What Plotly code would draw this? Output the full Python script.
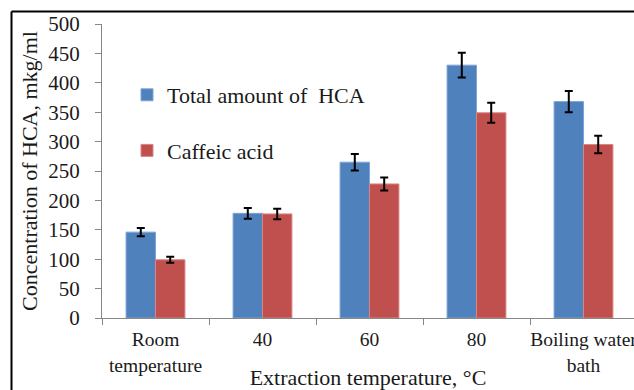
import plotly.graph_objects as go

categories = ["Room<br>temperature", "40", "60", "80", "Boiling water<br>bath"]
total_hca = [146, 178, 265, 430, 368]
total_err = [7, 9, 14, 21, 18]
caffeic = [99, 177, 228, 349, 295]
caffeic_err = [5, 9, 11, 17, 15]
series_names = ["Total amount of  HCA", "Caffeic acid"]
y_ticks = [0, 50, 100, 150, 200, 250, 300, 350, 400, 450, 500]

W, H = 634, 390
L, R, T, B = 102, 0, 24, 72
FONT = "Liberation Serif"
TXT = "#1a1a1a"

fig = go.Figure()
fig.add_trace(go.Bar(
    x=categories, y=total_hca, name=series_names[0], legendgroup="a",
    marker=dict(color="#4F81BD", line=dict(color="#7FA3D6", width=1)),
    error_y=dict(type="data", array=total_err, color="black", thickness=2, width=4),
))
fig.add_trace(go.Bar(
    x=categories, y=caffeic, name=series_names[1], legendgroup="b",
    marker=dict(color="#C0504D", line=dict(color="#D98583", width=1)),
    error_y=dict(type="data", array=caffeic_err, color="black", thickness=2, width=4),
))

pw = W - L - R
ph = H - T - B
def px_x(p):
    return (p - L) / pw
def px_y(p):
    return (H - B - p) / ph

fig.update_layout(
    width=W, height=H,
    margin=dict(l=L, r=R, t=T, b=B, pad=0),
    paper_bgcolor="white", plot_bgcolor="white",
    barmode="group", bargap=0.45, bargroupgap=0,
    font=dict(family=FONT, size=19, color=TXT),
    showlegend=True,
    legend=dict(
        x=px_x(127), y=px_y(74), xanchor="left", yanchor="top",
        bgcolor="rgba(0,0,0,0)", traceorder="grouped", tracegroupgap=24,
        font=dict(family=FONT, size=22, color=TXT),
    ),
    xaxis=dict(
        type="category", range=[-0.5, 4.472], showgrid=False,
        showline=True, linecolor="#868686", linewidth=1,
        ticks="outside", tickson="boundaries", ticklen=6, tickcolor="#868686",
        tickangle=0, ticklabelstandoff=4,
        tickfont=dict(family=FONT, size=19.5, color=TXT),
        title=dict(text="Extraction temperature, °C", standoff=2,
                   font=dict(family=FONT, size=22, color=TXT)),
        automargin=False,
    ),
    yaxis=dict(
        range=[0, 500], tickvals=y_ticks, showgrid=False, zeroline=False,
        showline=True, linecolor="#868686", linewidth=1,
        ticks="outside", ticklen=6, tickcolor="#868686",
        ticklabelstandoff=11,
        tickfont=dict(family=FONT, size=21, color=TXT),
        title=dict(text="Concentration of HCA, mkg/ml", standoff=4,
                   font=dict(family=FONT, size=22, color=TXT)),
        automargin=False,
    ),
    shapes=[
        dict(type="line", xref="paper", yref="paper",
             x0=px_x(11.5), x1=px_x(700), y0=px_y(11.5), y1=px_y(11.5),
             line=dict(color="black", width=2)),
        dict(type="line", xref="paper", yref="paper",
             x0=px_x(11.5), x1=px_x(11.5), y0=px_y(11.5), y1=px_y(420),
             line=dict(color="black", width=2)),
    ],
)

fig.write_html("out.html")
